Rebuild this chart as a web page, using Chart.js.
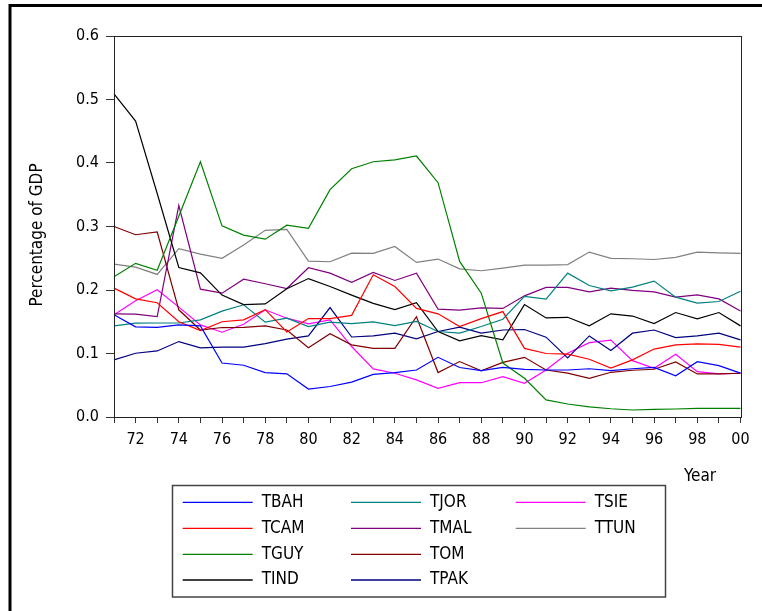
<!DOCTYPE html>
<html>
<head>
<meta charset="utf-8">
<script src="https://cdn.jsdelivr.net/npm/chart.js@4"></script>
<style>
  html, body { margin: 0; padding: 0; background: #fff; }
  #wrap { position: relative; width: 762px; height: 611px; }
</style>
</head>
<body>
<div id="wrap"><canvas id="chart" width="762" height="611"></canvas></div>
<script>
// Tax revenue as share of GDP, 1971-2000
const FONT = '"Liberation Sans Narrow", "DejaVu Sans Condensed", "Liberation Sans", sans-serif';

const years = [];
for (let y = 1971; y <= 2000; y++) years.push(y);

const yTicks = [0, 0.1, 0.2, 0.3, 0.4, 0.5, 0.6];

const TBAH = [.161,.142,.141,.145,.1435,.085,.0815,.070,.068,.044,.048,.055,.067,.070,.074,.094,.078,.073,.078,.075,.074,.074,.076,.073,.076,.078,.065,.087,.081,.069];
const TCAM = [.203,.186,.180,.150,.136,.150,.153,.169,.134,.155,.155,.160,.224,.2055,.171,.1625,.1425,.155,.166,.108,.100,.099,.091,.077,.090,.107,.1135,.115,.1145,.110];
const TGUY = [.221,.242,.231,.316,.402,.301,.2865,.280,.302,.297,.358,.391,.402,.405,.411,.369,.245,.195,.085,.061,.027,.0205,.016,.013,.011,.012,.0126,.0137,.0137,.0137];
const TIND = [.509,.466,.352,.2355,.227,.192,.177,.178,.202,.218,.2055,.192,.179,.169,.180,.1345,.120,.128,.1215,.177,.156,.157,.1435,.1625,.159,.147,.1645,.1546,.1645,.1435];
const TJOR = [.1435,.1477,.148,.148,.153,.1667,.1767,.1493,.1556,.1425,.1493,.1472,.1498,.144,.1504,.1346,.132,.1425,.154,.190,.1856,.2266,.207,.1987,.2045,.214,.1888,.1793,.1819,.198];
const TMAL = [.1625,.162,.158,.333,.2014,.195,.217,.2098,.2024,.235,.2266,.212,.2276,.215,.2266,.170,.1683,.172,.171,.1908,.204,.204,.197,.203,.1993,.197,.1888,.1924,.186,.167];
const TOM  = [.300,.287,.2913,.1688,.137,.1409,.141,.1435,.137,.109,.131,.1136,.108,.108,.158,.070,.0873,.0726,.086,.094,.074,.069,.061,.0704,.0736,.0752,.0867,.0678,.0678,.0689];
const TPAK = [.090,.1004,.104,.1188,.1088,.110,.110,.1156,.1225,.1277,.1724,.126,.1277,.132,.123,.1346,.1415,.132,.137,.1378,.1257,.093,.1277,.1046,.132,.137,.125,.1277,.132,.1215];
const TSIE = [.161,.183,.2003,.173,.145,.1335,.146,.1688,.1556,.1467,.153,.111,.0757,.0689,.0584,.0452,.054,.054,.0636,.053,.0741,.1004,.117,.121,.0888,.0768,.0988,.0715,.0678,.0689];
const TTUN = [.2408,.236,.2245,.265,.2566,.250,.271,.294,.2955,.2455,.2445,.258,.2577,.2686,.2434,.2487,.2334,.2303,.2345,.2393,.2393,.240,.2597,.2497,.2492,.248,.2513,.2597,.2586,.2576];

const seriesNames = ['TBAH','TCAM','TGUY','TIND','TJOR','TMAL','TOM','TPAK','TSIE','TTUN'];
const seriesData = [TBAH, TCAM, TGUY, TIND, TJOR, TMAL, TOM, TPAK, TSIE, TTUN];
const seriesColors = ['#0000ff','#ff0000','#008000','#000000','#008080','#800080','#800000','#000080','#ff00ff','#808080'];

// page frame, plot box, axis titles and the 3-column legend
const decor = {
  id: 'decor',
  afterDraw(chart){
    const ctx = chart.ctx, a = chart.chartArea;
    ctx.save();
    // outer frame (cropped at right/bottom)
    ctx.strokeStyle = '#000'; ctx.lineWidth = 3;
    ctx.beginPath(); ctx.moveTo(10, 640); ctx.lineTo(10, 5.5); ctx.lineTo(800, 5.5); ctx.stroke();
    // plot box
    ctx.strokeStyle = '#222'; ctx.lineWidth = 1;
    ctx.strokeRect(Math.round(a.left) + .5, Math.round(a.top) + .5, Math.round(a.right - a.left), Math.round(a.bottom - a.top));
    // axis titles
    ctx.fillStyle = '#000';
    ctx.font = '17px ' + FONT;
    ctx.textAlign = 'center'; ctx.textBaseline = 'middle';
    ctx.save(); ctx.translate(38, 235); ctx.rotate(-Math.PI/2); ctx.fillText('Percentage of GDP', 0, 0); ctx.restore();
    ctx.textAlign = 'left';
    ctx.fillText('Year', 684, 477);
    // legend
    ctx.strokeStyle = '#444'; ctx.lineWidth = 1.5;
    ctx.strokeRect(172.5, 485.5, 493, 111.5);
    const colX = [182.7, 351, 515.7], rowY = [502.3, 528.3, 554.3, 580];
    chart.data.datasets.forEach((ds, i) => {
      const x = colX[Math.floor(i / 4)], y = rowY[i % 4];
      ctx.strokeStyle = ds.borderColor; ctx.lineWidth = 1.3;
      ctx.beginPath(); ctx.moveTo(x, y); ctx.lineTo(x + 70, y); ctx.stroke();
      ctx.fillStyle = '#000';
      ctx.fillText(ds.label, x + 79, y);
    });
    ctx.restore();
  }
};

new Chart(document.getElementById('chart'), {
  type: 'line',
  data: {
    labels: years,
    datasets: seriesNames.map((n, i) => ({
      label: n, data: seriesData[i], borderColor: seriesColors[i], backgroundColor: seriesColors[i],
      borderWidth: 1.2, pointRadius: 0, tension: 0, fill: false
    }))
  },
  options: {
    responsive: false, animation: false, devicePixelRatio: 1,
    layout: { padding: { top: 36, right: 21.5, left: 0, bottom: 0 } },
    plugins: { legend: { display: false }, tooltip: { enabled: false }, title: { display: false } },
    scales: {
      x: {
        type: 'category', offset: false,
        border: { color: '#222', width: 1 },
        grid: { drawOnChartArea: false, drawTicks: true, tickLength: 6, color: '#333' },
        ticks: {
          autoSkip: false, maxRotation: 0, padding: 7, color: '#000',
          font: { family: FONT, size: 16 },
          callback: function(v, i){ const y = years[i]; return y % 2 === 0 ? String(y).slice(2) : ''; }
        },
        afterFit(s){ s.height = 611 - 417; }
      },
      y: {
        min: 0, max: 0.6,
        border: { color: '#222', width: 1 },
        grid: { drawOnChartArea: false, drawTicks: true, tickLength: 8, color: '#333' },
        afterBuildTicks(s){ s.ticks = yTicks.map(v => ({ value: v })); },
        ticks: {
          padding: 7, color: '#000',
          font: { family: FONT, size: 16 },
          callback: v => Number(v).toFixed(1)
        },
        afterFit(s){ s.width = 114; }
      }
    }
  },
  plugins: [decor]
});
</script>
</body>
</html>
